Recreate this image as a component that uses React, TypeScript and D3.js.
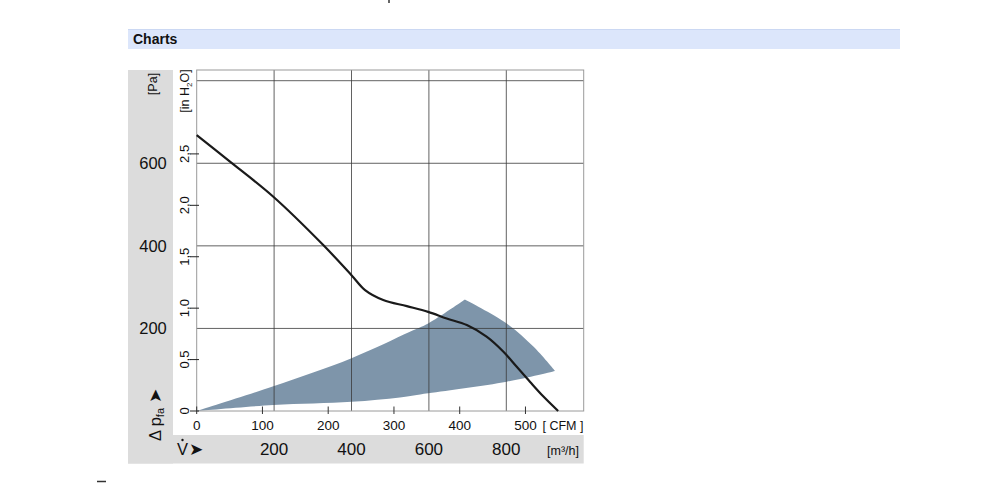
import React from "react";
import * as d3 from "d3";

const paTicks = [200, 400, 600];
const paGrid = [200, 400, 600, 800];
const m3hTicks = [200, 400, 600, 800];
const inH2OTicks = [0, 0.5, 1, 1.5, 2, 2.5];
const cfmTicks = [0, 100, 200, 300, 400, 500];

const curveFlow = [0, 86, 198, 327, 400, 435, 482, 543, 598, 646, 698, 749, 792, 827, 861, 896, 934];
const curvePa = [668, 604, 519, 402, 329, 293, 269, 254, 240, 224, 208, 180, 144, 107, 71, 35, 0];

const upperFlow = [0, 198, 400, 551, 598, 693];
const upperPa = [0, 60, 128, 192, 212, 270];
const edgeFlow = [693, 801, 870, 926];
const edgePa = [270, 212, 156, 97];
const lowerFlow = [926, 801, 598, 525, 400, 198, 0];
const lowerPa = [97, 71, 43, 33, 22.5, 14.5, 0];

const PA_PER_INH2O = 249.09;
const M3H_PER_CFM = 1.699;

const FONT = "'Liberation Sans Narrow', 'Liberation Sans', Arial, sans-serif";

export default function App() {
  const x = d3.scaleLinear().domain([0, 1000]).range([196.7, 583.7]);
  const y = d3.scaleLinear().domain([0, 800]).range([411, 80.7]);
  const yTop = 70;

  const zip = (a: number[], b: number[]) => a.map((v, i) => [v, b[i]] as [number, number]);
  const line = d3
    .line<[number, number]>()
    .x((d) => x(d[0]))
    .y((d) => y(d[1]))
    .curve(d3.curveCatmullRom.alpha(0.5));

  const seg1 = line(zip(upperFlow, upperPa)) || "";
  const seg2 = (line(zip(edgeFlow, edgePa)) || "").replace(/^M/, "L");
  const seg3 = (line(zip(lowerFlow, lowerPa)) || "").replace(/^M/, "L");
  const areaPath = seg1 + seg2 + seg3 + "Z";
  const curvePath = line(zip(curveFlow, curvePa)) || "";

  const gridColor = "#3a3a3a";
  const frameColor = "#9a9a9a";
  const txt = "#111";
  const fmtIn = (v: number) => (v === 0 ? "0" : v.toFixed(1).replace(".", ","));

  return (
    <svg width={1000} height={490} style={{ position: "absolute", left: 0, top: 0 }}>
      <rect x={0} y={0} width={1000} height={490} fill="#fff" />
      <rect x={388} y={0} width={2} height={3} fill="#666" />
      {/* title bar */}
      <rect x={128} y={29} width={772} height={20} fill="#dce6fb" />
      <line x1={128} x2={900} y1={29.5} y2={29.5} stroke="#cbd8f3" />
      <text x={133} y={44} fontFamily={FONT} fontSize={14} fontWeight="bold" fill="#111">
        Charts
      </text>

      {/* gray panels */}
      <rect x={128} y={70} width={45} height={393.5} fill="#dcdcdc" />
      <rect x={128} y={435} width={455.7} height={28.5} fill="#dcdcdc" />

      {/* shaded region */}
      <path d={areaPath} fill="#7e95aa" />

      {/* grid */}
      {m3hTicks.map((v) => (
        <line key={"vg" + v} x1={x(v)} x2={x(v)} y1={yTop} y2={411} stroke={gridColor} strokeWidth={0.8} />
      ))}
      {paGrid.map((v) => (
        <line key={"hg" + v} x1={x(0)} x2={x(1000)} y1={y(v)} y2={y(v)} stroke={gridColor} strokeWidth={0.8} />
      ))}
      {/* frame */}
      <rect x={x(0)} y={yTop} width={x(1000) - x(0)} height={411 - yTop} fill="none" stroke={frameColor} strokeWidth={1} />

      {/* curve */}
      <path d={curvePath} fill="none" stroke="#1a1a1a" strokeWidth={2.2} />

      {/* inH2O ticks */}
      {inH2OTicks.map((v) => {
        const yy = y(v * PA_PER_INH2O);
        return (
          <g key={"ih" + v}>
            <line x1={190} x2={199} y1={yy} y2={yy} stroke="#222" strokeWidth={1} />
            <text
              transform={`translate(189,${yy}) rotate(-90)`}
              textAnchor="middle"
              fontFamily={FONT}
              fontSize={13}
              fill={txt}
            >
              {fmtIn(v)}
            </text>
          </g>
        );
      })}
      <text transform={`translate(189,91) rotate(-90)`} textAnchor="middle" fontFamily={FONT} fontSize={12.5} fill={txt}>
        [in H<tspan fontSize={8} dy={3}>2</tspan>
        <tspan dy={-3}>O]</tspan>
      </text>

      {/* Pa labels */}
      {paTicks.map((v) => (
        <text key={"pa" + v} x={153} y={y(v) + 6} textAnchor="middle" fontFamily={FONT} fontSize={16.5} fill={txt}>
          {v}
        </text>
      ))}
      <text transform={`translate(157,84) rotate(-90)`} textAnchor="middle" fontFamily={FONT} fontSize={12.5} fill={txt}>
        [Pa]
      </text>
      <text transform={`translate(161,441) rotate(-90)`} textAnchor="start" fontFamily={FONT} fontSize={16.5} fill={txt}>
        Δ p<tspan fontSize={11} dy={3}>fa</tspan>
        <tspan dy={-3}> ➤</tspan>
      </text>

      {/* CFM ticks */}
      {cfmTicks.map((v) => {
        const xx = x(v * M3H_PER_CFM);
        return (
          <g key={"cfm" + v}>
            <line x1={xx} x2={xx} y1={406.5} y2={414} stroke="#333" strokeWidth={1} />
            <text x={xx} y={430} textAnchor="middle" fontFamily={FONT} fontSize={13.5} fill={txt}>
              {v}
            </text>
          </g>
        );
      })}
      <text x={563} y={430} textAnchor="middle" fontFamily={FONT} fontSize={12.5} fill={txt}>
        [ CFM ]
      </text>

      {/* m3/h labels */}
      {m3hTicks.map((v) => (
        <text key={"m" + v} x={x(v)} y={455} textAnchor="middle" fontFamily={FONT} fontSize={17} fill={txt}>
          {v}
        </text>
      ))}
      <text x={563} y={455} textAnchor="middle" fontFamily={FONT} fontSize={12.5} fill={txt}>
        [m³/h]
      </text>
      <text x={177} y={455} fontFamily={FONT} fontSize={16.5} fill={txt}>
        V
      </text>
      <circle cx={182.5} cy={440} r={1.2} fill={txt} />
      <text x={189} y={455} fontFamily={FONT} fontSize={16.5} fill={txt}>
        ➤
      </text>

      <line x1={97} x2={106} y1={481.5} y2={481.5} stroke="#333" strokeWidth={1.5} />
    </svg>
  );
}
